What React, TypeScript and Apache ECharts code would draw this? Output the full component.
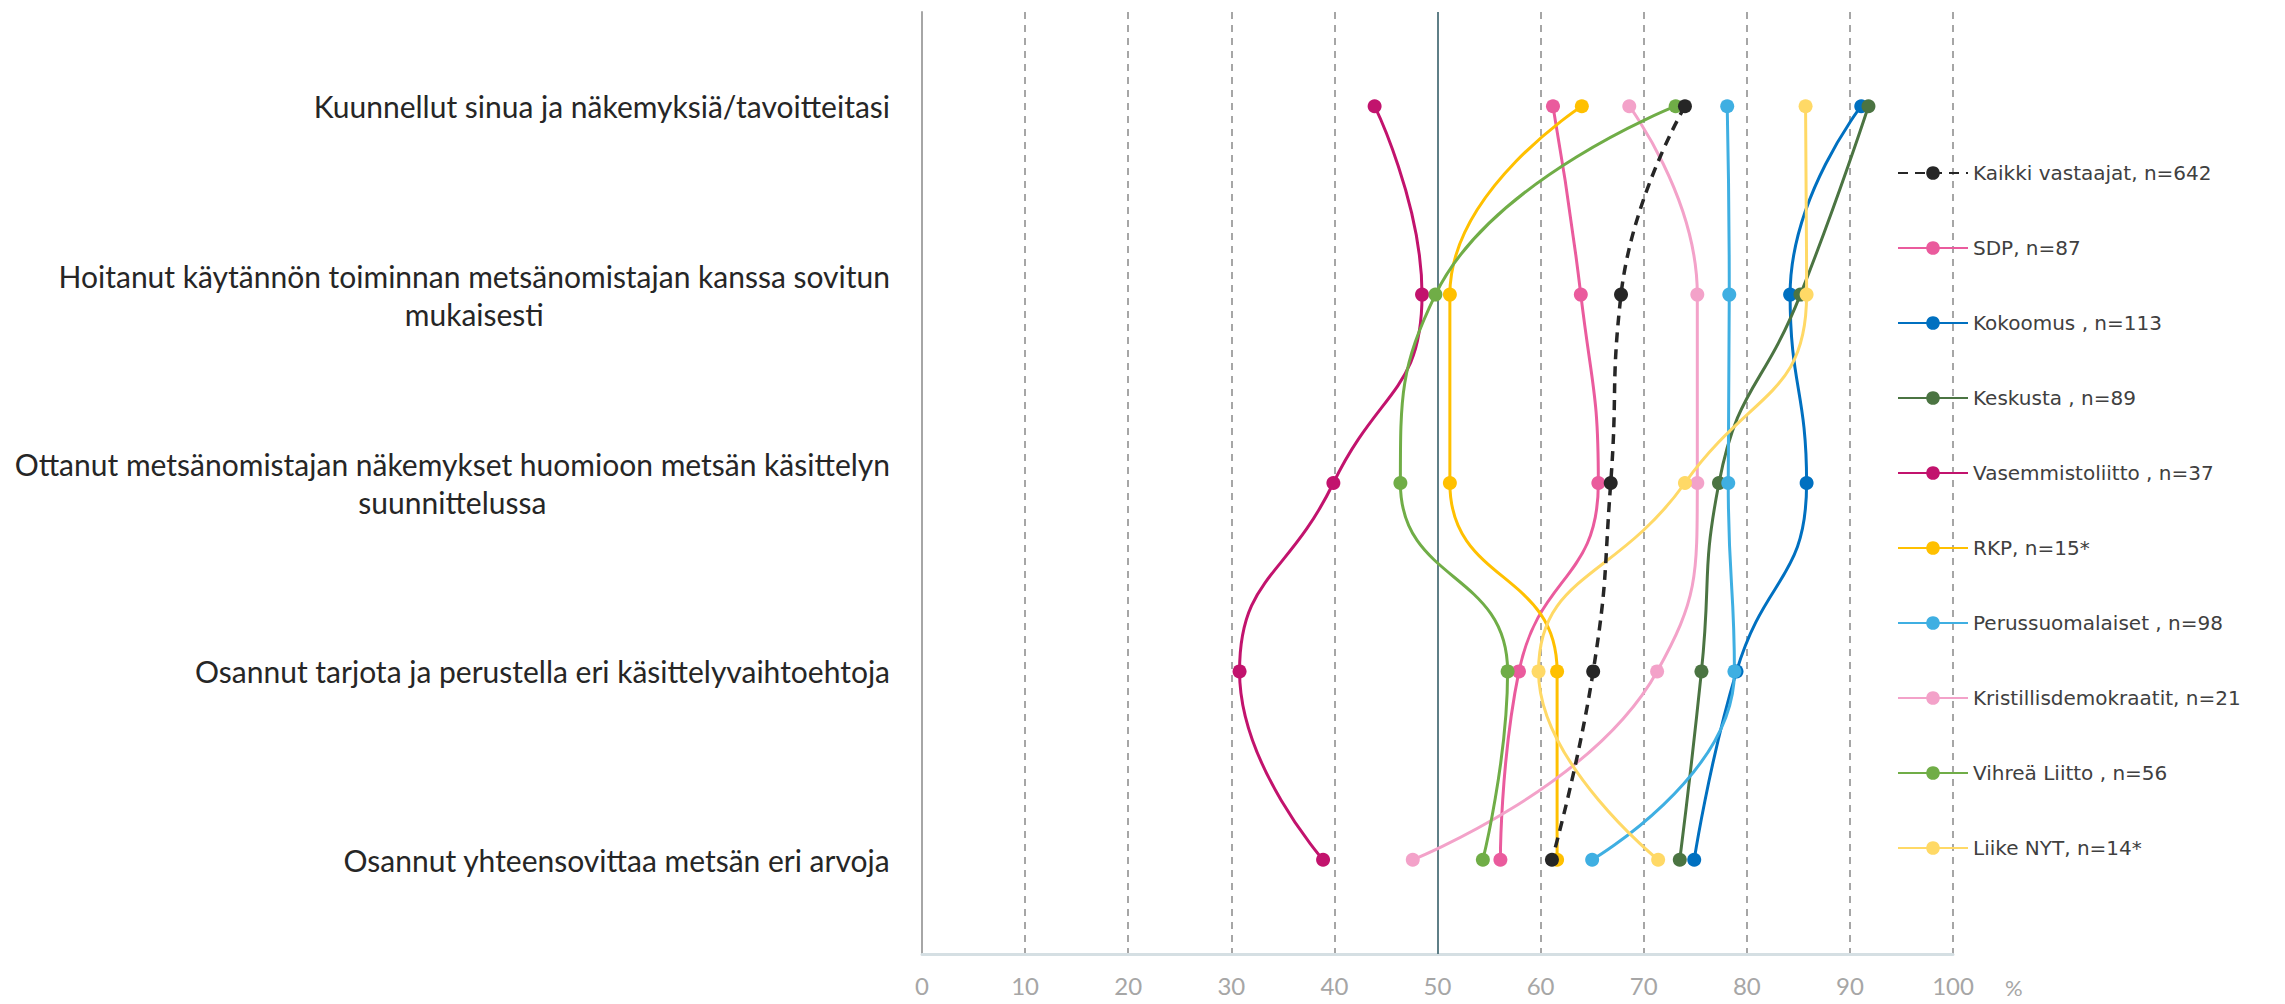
import React, { useEffect, useRef } from "react";
import * as echarts from "echarts";

const categories = [
  "Kuunnellut sinua ja näkemyksiä/tavoitteitasi",
  "Hoitanut käytännön toiminnan metsänomistajan kanssa sovitun\nmukaisesti",
  "Ottanut metsänomistajan näkemykset huomioon metsän käsittelyn\nsuunnittelussa",
  "Osannut tarjota ja perustella eri käsittelyvaihtoehtoja",
  "Osannut yhteensovittaa metsän eri arvoja",
];

const seriesNames = [
  "Kaikki vastaajat, n=642",
  "SDP, n=87",
  "Kokoomus , n=113",
  "Keskusta , n=89",
  "Vasemmistoliitto , n=37",
  "RKP, n=15*",
  "Perussuomalaiset , n=98",
  "Kristillisdemokraatit, n=21",
  "Vihreä Liitto , n=56",
  "Liike NYT, n=14*",
];

const seriesColors = [
  "#262626",
  "#EA5B9D",
  "#0070C0",
  "#4B7442",
  "#C2136D",
  "#FFC000",
  "#3FAFE2",
  "#F3A2C9",
  "#70AD47",
  "#FFD966",
];

const kaikki = [74.0, 67.8, 66.8, 65.1, 61.1];
const sdp = [61.2, 63.9, 65.6, 57.9, 56.1];
const kokoomus = [91.1, 84.2, 85.8, 79.0, 74.9];
const keskusta = [91.8, 85.2, 77.3, 75.6, 73.5];
const vasemmisto = [43.9, 48.5, 39.9, 30.8, 38.9];
const rkp = [64.0, 51.2, 51.2, 61.6, 61.6];
const perussuomalaiset = [78.1, 78.3, 78.2, 78.8, 65.0];
const kristillis = [68.6, 75.2, 75.2, 71.3, 47.6];
const vihrea = [73.1, 49.8, 46.4, 56.8, 54.4];
const liikeNyt = [85.7, 85.8, 74.0, 59.8, 71.4];

const seriesValues = [
  kaikki,
  sdp,
  kokoomus,
  keskusta,
  vasemmisto,
  rkp,
  perussuomalaiset,
  kristillis,
  vihrea,
  liikeNyt,
];

const xTicks = { min: 0, max: 100, interval: 10 };
const referenceValue = 50;

export default function App() {
  const ref = useRef<HTMLDivElement>(null);

  useEffect(() => {
    document.body.style.margin = "0";
    if (!ref.current) return;
    const chart = echarts.init(ref.current, undefined, { renderer: "svg" });
    const font = "Lato";

    const series: any[] = seriesNames.map((name, i) => {
      const isAll = i === 0;
      const s: any = {
        name,
        type: "line",
        data: seriesValues[i],
        smooth: 0.5,
        symbol: "circle",
        symbolSize: 14,
        z: isAll ? 3 : 2,
        itemStyle: { color: seriesColors[i] },
        lineStyle: {
          color: seriesColors[i],
          width: isAll ? 3.5 : 3,
          type: isAll ? [10, 7] : "solid",
        },
        emphasis: { disabled: true },
      };
      if (i === 0) {
        s.markLine = {
          silent: true,
          symbol: "none",
          label: { show: false },
          lineStyle: { color: "#5F7F87", width: 2, type: "solid" },
          data: [{ xAxis: referenceValue }],
          z: 1,
        };
      }
      return s;
    });

    chart.setOption({
      animation: false,
      backgroundColor: "#ffffff",
      textStyle: { fontFamily: font },
      grid: { left: 922, right: 332, top: 12, bottom: 50, containLabel: false },
      legend: {
        orient: "vertical",
        left: 1892,
        top: 157,
        itemWidth: 70,
        itemHeight: 17,
        itemGap: 53,
        textStyle: {
          fontFamily: "DejaVu Sans",
          fontSize: 20,
          color: "#404040",
          lineHeight: 22,
        },
        data: seriesNames,
      },
      xAxis: {
        type: "value",
        min: xTicks.min,
        max: xTicks.max,
        interval: xTicks.interval,
        name: "%",
        nameLocation: "end",
        nameGap: 52,
        nameTextStyle: {
          fontFamily: font,
          fontSize: 22,
          color: "#A6A6A6",
          verticalAlign: "top",
          padding: [22, 0, 0, 0],
        },
        axisLine: { show: true, lineStyle: { color: "#D5DFE3", width: 3 } },
        axisTick: { show: false },
        axisLabel: { fontFamily: font, fontSize: 24, color: "#A6A6A6", margin: 19 },
        splitLine: {
          show: true,
          lineStyle: { color: "#A6A6A6", width: 2, type: [7, 6] },
        },
      },
      yAxis: {
        type: "category",
        inverse: true,
        data: categories,
        axisLine: { show: true, onZero: false, lineStyle: { color: "#A6A6A6", width: 2 } },
        axisTick: { show: false },
        splitLine: { show: false },
        axisLabel: {
          margin: 32,
          align: "right",
          color: "#262626",
          fontFamily: font,
          fontSize: 30,
          lineHeight: 38,
          formatter: (v: string) =>
            v
              .split("\n")
              .map((l) => `{c|${l}}`)
              .join("\n"),
          rich: {
            c: {
              align: "center",
              fontFamily: font,
              fontSize: 30,
              lineHeight: 38,
              color: "#262626",
            },
          },
        },
      },
      series,
    });

    return () => chart.dispose();
  }, []);

  return <div ref={ref} style={{ width: 2285, height: 1004 }} />;
}
